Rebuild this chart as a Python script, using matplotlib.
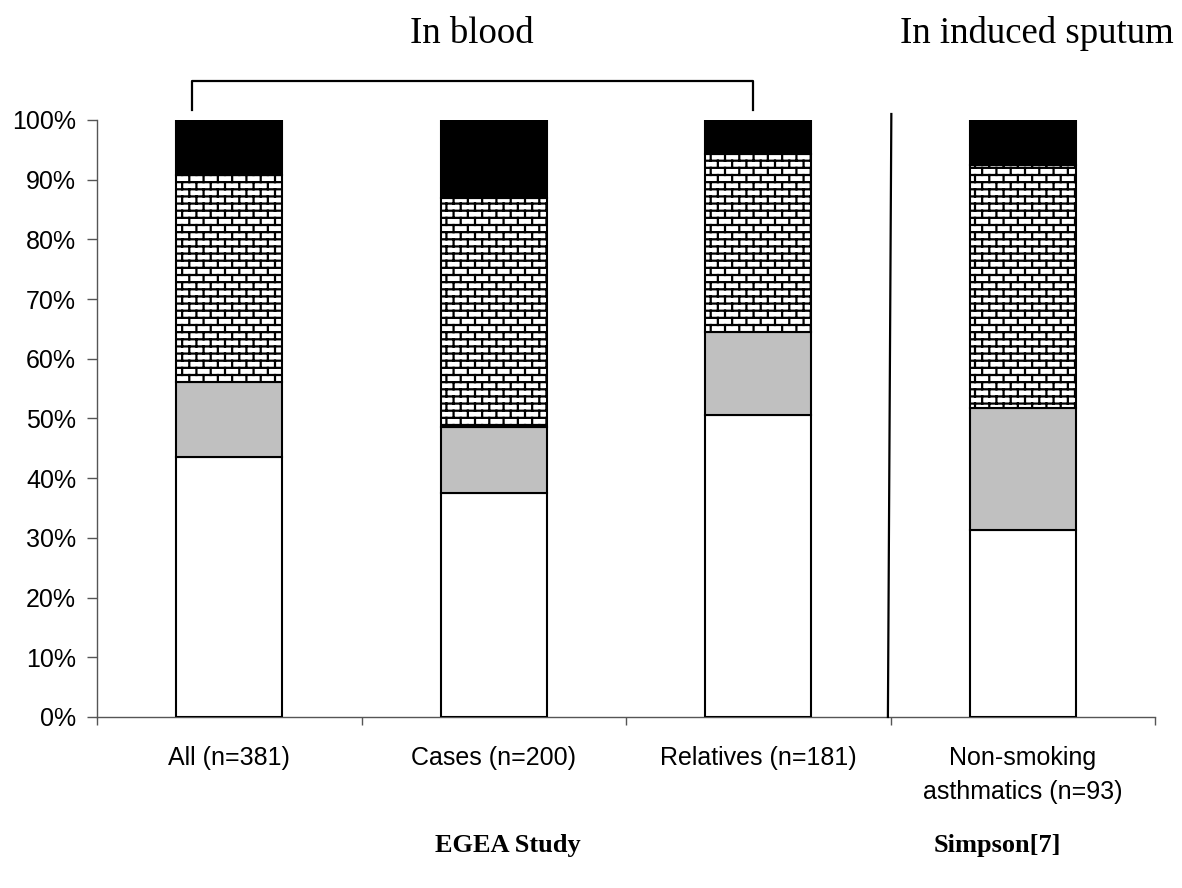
import warnings
import numpy as np
import matplotlib
matplotlib.use('Agg')
import matplotlib.pyplot as plt
from matplotlib import hatch as mhatch
from matplotlib.path import Path
from matplotlib.ticker import PercentFormatter

warnings.filterwarnings('ignore')

# 数据：每组的四个分段（百分比，自下而上）
categories = ['All (n=381)', 'Cases (n=200)', 'Relatives (n=181)',
              'Non-smoking\nasthmatics (n=93)']
seg_white = [43.5, 37.5, 50.5, 31.3]
seg_gray = [12.6, 11.0, 14.0, 20.4]
seg_brick = [34.7, 38.5, 29.8, 40.8]
seg_black = [9.2, 13.0, 5.7, 7.5]

group_titles = ['In blood', 'In induced sputum']
study_labels = ['EGEA Study', 'Simpson[7]']


class BrickHatch(mhatch.HatchPatternBase):
    """砖墙填充图案，用字符 'B' 触发"""
    rows = 14
    cols = 7

    def __init__(self, hatch, density):
        self.on = hatch.count('B') > 0
        if self.on:
            n_h = self.rows * 2
            n_v = (self.rows - 1) * self.cols * 2 + self.cols * 4
            self.num_vertices = n_h + n_v
        else:
            self.num_vertices = 0

    def set_vertices_and_codes(self, vertices, codes):
        r, c = self.rows, self.cols
        segs = []
        for k in range(r):
            y = (k + 0.5) / r
            segs.append(((0.0, y), (1.0, y)))
        for k in range(r):
            off = 0.5 * (k % 2)
            for j in range(c):
                x = (j + 0.25 + off) / c
                if k < r - 1:
                    segs.append(((x, (k + 0.5) / r), (x, (k + 1.5) / r)))
                else:
                    segs.append(((x, (k + 0.5) / r), (x, 1.0)))
                    segs.append(((x, 0.0), (x, 0.5 / r)))
        pts = np.array(segs).reshape(-1, 2)
        vertices[:] = pts
        codes[0::2] = Path.MOVETO
        codes[1::2] = Path.LINETO


mhatch._hatch_types.append(BrickHatch)

plt.rcParams['font.family'] = ['Liberation Sans', 'DejaVu Sans']
plt.rcParams['hatch.linewidth'] = 1.6
plt.rcParams['hatch.color'] = 'black'

fig = plt.figure(figsize=(11.82, 8.88), dpi=100)
ax = fig.add_axes([0.0821, 0.1926, 0.8951, 0.6723])

x = np.arange(len(categories)) + 0.5
w = 0.4
white = np.array(seg_white) / 100
gray = np.array(seg_gray) / 100
brick = np.array(seg_brick) / 100
black = np.array(seg_black) / 100

ax.bar(x, white, w, color='white', edgecolor='black', linewidth=1.5, zorder=3)
ax.bar(x, gray, w, bottom=white, color='#c0c0c0', edgecolor='black',
       linewidth=1.5, zorder=3)
ax.bar(x, brick, w, bottom=white + gray, color='white', edgecolor='black',
       hatch='B', linewidth=1.5, zorder=3)
ax.bar(x, black, w, bottom=white + gray + brick, color='black',
       edgecolor='black', linewidth=1.5, zorder=3)

ax.set_xlim(0, len(categories))
ax.set_ylim(0, 1)
ax.yaxis.set_major_locator(plt.MultipleLocator(0.1))
ax.yaxis.set_major_formatter(PercentFormatter(1.0, decimals=0))

# x 轴：主刻度在组边界，次刻度放标签
ax.set_xticks(np.arange(len(categories) + 1))
ax.set_xticklabels([])
ax.set_xticks(x, minor=True)
ax.set_xticklabels(categories, minor=True, fontsize=18)
for t in ax.get_xticklabels(minor=True):
    t.set_linespacing(1.5)
ax.tick_params(axis='x', which='minor', length=0, pad=21)
ax.tick_params(axis='x', which='major', length=6, width=1, color='#555555')
ax.tick_params(axis='y', length=7, width=1, color='#555555', pad=8,
               labelsize=18)

for s in ['top', 'right']:
    ax.spines[s].set_visible(False)
for s in ['left', 'bottom']:
    ax.spines[s].set_color('#555555')
    ax.spines[s].set_linewidth(1)

# 分隔线和括号
ax.plot([2.99, 3.003], [0, 1.01], color='black', lw=1.6, clip_on=False,
        zorder=4)
ax.plot([0.36, 0.36, 2.48, 2.48], [1.017, 1.066, 1.066, 1.017],
        color='black', lw=1.6, clip_on=False, zorder=4)

serif = ['Liberation Serif', 'DejaVu Serif']
fig.text(0.399, 0.9516, group_titles[0], ha='center', va='baseline',
         fontsize=26.5, family=serif)
fig.text(0.877, 0.9516, group_titles[1], ha='center', va='baseline',
         fontsize=26.5, family=serif)
fig.text(0.43, 0.04, study_labels[0], ha='center', va='baseline',
         fontsize=19, fontweight='bold', family=serif)
fig.text(0.844, 0.04, study_labels[1], ha='center', va='baseline',
         fontsize=19, fontweight='bold', family=serif)

fig.savefig('out.png', dpi=100)
